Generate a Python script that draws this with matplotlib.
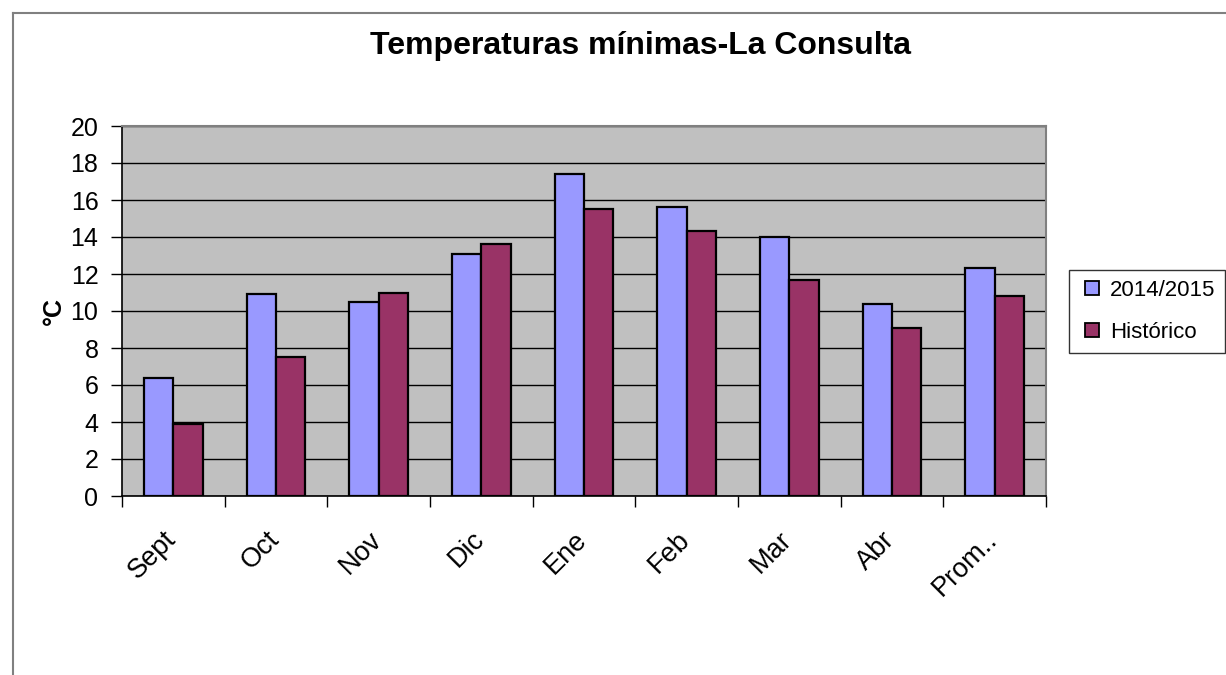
import matplotlib
matplotlib.use("Agg")
import matplotlib.pyplot as plt
import numpy as np
from matplotlib.lines import Line2D

categories = ["Sept", "Oct", "Nov", "Dic", "Ene", "Feb", "Mar", "Abr", "Prom.."]
serie_2014 = [6.4, 10.9, 10.5, 13.1, 17.4, 15.6, 14.0, 10.4, 12.3]
serie_hist = [3.9, 7.5, 11.0, 13.6, 15.5, 14.3, 11.7, 9.1, 10.8]
series_names = ["2014/2015", "Histórico"]
yticks = list(range(0, 21, 2))

plt.rcParams['font.family'] = ['Liberation Sans', 'DejaVu Sans']

W, H = 1226, 675
fig = plt.figure(figsize=(W / 100, H / 100), dpi=100)
fig.patch.set_facecolor('white')

# chart area border (top and left visible)
fig.add_artist(Line2D([13 / W, 1.0], [1 - 13 / H, 1 - 13 / H], transform=fig.transFigure,
                      color='#808080', lw=1.5))
fig.add_artist(Line2D([13 / W, 13 / W], [0, 1 - 13 / H], transform=fig.transFigure,
                      color='#808080', lw=1.5))

left, right, top, bottom = 122, 1046, 126, 496
ax = fig.add_axes([left / W, 1 - bottom / H, (right - left) / W, (bottom - top) / H])
ax.set_facecolor('#C0C0C0')

c_blue, c_red = '#9999FF', '#993366'
n = len(categories)
x = np.arange(n)
bw = 1 / 3.5
ax.bar(x - bw / 2, serie_2014, width=bw, color=c_blue, edgecolor='black', linewidth=1.6,
       label=series_names[0], zorder=3)
ax.bar(x + bw / 2, serie_hist, width=bw, color=c_red, edgecolor='black', linewidth=1.6,
       label=series_names[1], zorder=3)

ax.set_xlim(-0.5, n - 0.5)
ax.set_ylim(0, 20)
ax.set_yticks(yticks)
ax.set_yticklabels([str(v) for v in yticks], fontsize=18)
ax.yaxis.grid(True, color='black', lw=1)
ax.set_axisbelow(True)

ax.set_xticks(np.arange(-0.5, n, 1.0))
ax.set_xticklabels([])
# category labels (invisible minor ticks, labels shifted slightly right like the original)
ax.set_xticks(x + 0.08, minor=True)
ax.set_xticklabels(categories, minor=True, rotation=45, ha='right', va='top', fontsize=19.5)
ax.tick_params(axis='x', which='minor', length=0, pad=22)
ax.tick_params(axis='x', which='major', length=8, width=1, direction='out', color='black')
ax.tick_params(axis='y', length=8, width=1, direction='out', pad=9, color='black')

for s in ['top', 'right']:
    ax.spines[s].set_color('#808080')
    ax.spines[s].set_linewidth(1.5)
for s in ['left', 'bottom']:
    ax.spines[s].set_color('black')
    ax.spines[s].set_linewidth(1.2)

ax.set_ylabel("°C", fontsize=18, fontweight='bold', labelpad=3)

fig.text(640 / W, 1 - 54 / H, "Temperaturas mínimas-La Consulta", ha='center', va='baseline',
         fontsize=23, fontweight='bold')

handles = [Line2D([], [], ls='none', marker='s', markersize=10, markerfacecolor=c_blue,
                  markeredgecolor='black', markeredgewidth=1.3),
           Line2D([], [], ls='none', marker='s', markersize=10, markerfacecolor=c_red,
                  markeredgecolor='black', markeredgewidth=1.3)]
leg = fig.legend(handles, series_names, loc='upper left',
                 bbox_to_anchor=(1069 / W, 1 - 270 / H), bbox_transform=fig.transFigure,
                 fontsize=16, frameon=True, fancybox=False, edgecolor='black',
                 handlelength=1.2, handletextpad=0.2,
                 borderpad=0.45, labelspacing=0.95, borderaxespad=0)
leg.get_frame().set_linewidth(1.0)

fig.savefig("out.png", dpi=100)
